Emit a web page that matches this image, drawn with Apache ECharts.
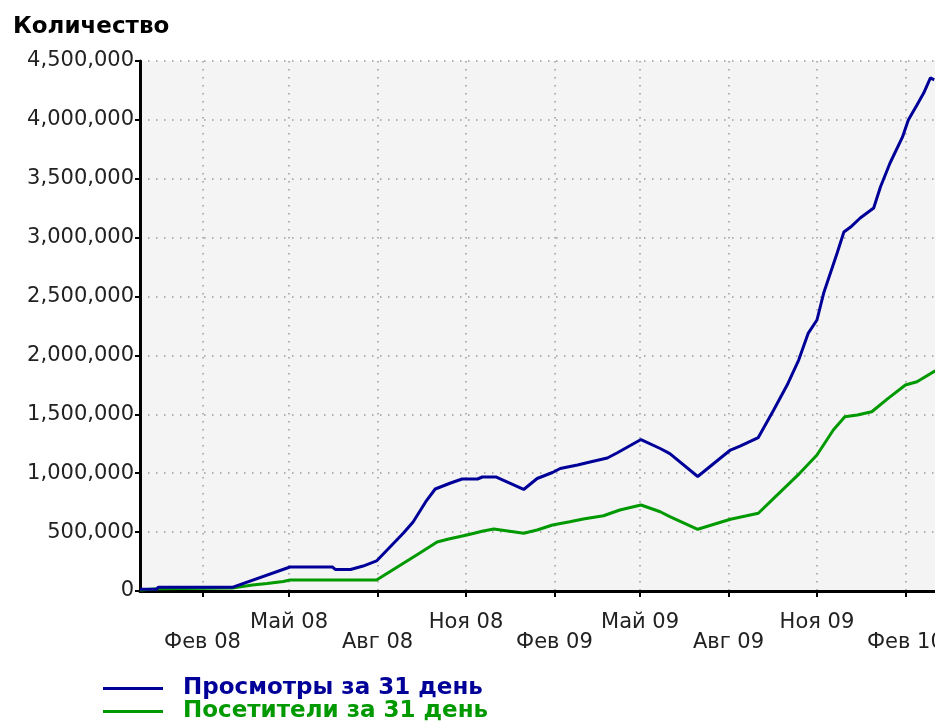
<!DOCTYPE html>
<html>
<head>
<meta charset="utf-8">
<title>Количество</title>
<script src="https://cdn.jsdelivr.net/npm/echarts@6/dist/echarts.min.js"></script>
<style>
    html, body { margin: 0; padding: 0; background: #fff; }
    #chart { width: 935px; height: 723px; }
</style>
</head>
<body>
<div id="chart"></div>
<script>
// Просмотры за 31 день
var viewsDates = ['2007-11-28', '2007-12-15', '2007-12-17', '2008-03-03', '2008-05-02', '2008-06-15', '2008-06-18',
    '2008-07-04', '2008-07-17', '2008-07-31', '2008-08-28', '2008-09-07', '2008-09-20', '2008-09-30', '2008-10-16',
    '2008-10-28', '2008-11-13', '2008-11-18', '2008-12-02', '2008-12-31', '2009-01-14', '2009-01-30', '2009-02-07',
    '2009-02-25', '2009-03-10', '2009-03-28', '2009-04-07', '2009-05-02', '2009-05-22', '2009-06-01', '2009-06-30',
    '2009-08-03', '2009-08-13', '2009-09-01', '2009-09-17', '2009-10-01', '2009-10-13', '2009-10-23', '2009-11-01',
    '2009-11-08', '2009-11-22', '2009-11-29', '2009-12-06', '2009-12-16', '2009-12-30', '2010-01-06', '2010-01-16',
    '2010-01-29', '2010-02-04', '2010-02-13', '2010-02-20', '2010-02-27', '2010-03-03'];
var viewsValues = [14000, 14000, 31000, 31000, 204000, 204000, 183000,
    183000, 212000, 255000, 492000, 586000, 756000, 866000, 917000,
    951000, 951000, 968000, 968000, 862000, 955000, 1006000, 1040000,
    1070000, 1095000, 1129000, 1172000, 1286000, 1210000, 1167000, 972000,
    1197000, 1231000, 1303000, 1537000, 1749000, 1961000, 2190000, 2301000,
    2530000, 2870000, 3048000, 3090000, 3167000, 3252000, 3430000, 3634000,
    3855000, 3999000, 4126000, 4228000, 4356000, 4340000];

// Посетители за 31 день
var visitorsDates = ['2007-11-28', '2007-12-17', '2008-03-03', '2008-03-24', '2008-04-08', '2008-04-25', '2008-05-02',
    '2008-07-31', '2008-08-25', '2008-09-14', '2008-10-02', '2008-10-14', '2008-11-02', '2008-11-19', '2008-11-30',
    '2008-12-07', '2008-12-20', '2008-12-31', '2009-01-14', '2009-01-30', '2009-02-17', '2009-03-03', '2009-03-24',
    '2009-04-10', '2009-05-02', '2009-05-22', '2009-06-01', '2009-06-30', '2009-08-03', '2009-09-01', '2009-09-17',
    '2009-10-14', '2009-11-01', '2009-11-18', '2009-11-30', '2009-12-13', '2009-12-28', '2010-01-14', '2010-02-01',
    '2010-02-13', '2010-03-04'];
var visitorsValues = [8000, 20000, 25000, 51000, 64000, 81000, 93000,
    93000, 221000, 323000, 416000, 441000, 475000, 509000, 526000,
    518000, 503000, 490000, 518000, 560000, 588000, 611000, 639000,
    688000, 730000, 673000, 631000, 524000, 609000, 660000, 787000,
    999000, 1155000, 1367000, 1480000, 1494000, 1522000, 1636000, 1749000,
    1777000, 1870000];

// подписи оси X
var tickDates = ['2008-02-01', '2008-05-01', '2008-08-01', '2008-11-01', '2009-02-01',
    '2009-05-01', '2009-08-01', '2009-11-01', '2010-02-01'];
var tickLabels = ['Фев 08', 'Май 08', 'Авг 08', 'Ноя 08', 'Фев 09',
    'Май 09', 'Авг 09', 'Ноя 09', 'Фев 10'];

var seriesNames = ['Просмотры за 31 день', 'Посетители за 31 день'];

// ось X в днях от 1 февраля 2008
var baseTime = Date.UTC(2008, 1, 1);
function toDay(s) {
    var p = s.split('-');
    return Math.round((Date.UTC(+p[0], +p[1] - 1, +p[2]) - baseTime) / 86400000);
}

function pairs(dates, values) {
    return dates.map(function(d, i) { return [toDay(d), values[i]]; });
}

var tickDays = tickDates.map(toDay);
var dotted = { color: '#9a9a9a', width: 1.5, type: [1.5, 6.5] };

var myChart = echarts.init(document.getElementById('chart'));
var option = {
    animation: false,
    backgroundColor: '#fff',
    textStyle: { fontFamily: 'DejaVu Sans' },
    title: {
        text: 'Количество',
        left: 8,
        top: 11,
        textStyle: { fontSize: 23, fontWeight: 'bold', color: '#000', fontFamily: 'DejaVu Sans' }
    },
    legend: {
        orient: 'vertical',
        left: 103,
        top: 677,
        padding: 0,
        icon: 'rect',
        itemWidth: 60,
        itemHeight: 3,
        itemGap: 0,
        textStyle: { fontSize: 23, fontWeight: 'bold', lineHeight: 22, padding: [0, 0, 0, 15] },
        data: [
            { name: seriesNames[0], textStyle: { color: '#000099' } },
            { name: seriesNames[1], textStyle: { color: '#009900' } }
        ]
    },
    grid: {
        left: 140,
        right: -6,
        top: 61,
        bottom: 132,
        outerBoundsMode: 'none',
        show: true,
        backgroundColor: '#f4f4f4',
        borderWidth: 0
    },
    xAxis: {
        type: 'value',
        min: toDay('2007-11-28'),
        max: toDay('2010-03-10'),
        axisLine: { show: true, onZero: false, lineStyle: { color: '#000', width: 3 } },
        axisTick: { show: true, length: 6, lineStyle: { color: '#000', width: 2 }, customValues: tickDays },
        axisLabel: {
            customValues: tickDays,
            fontSize: 21,
            lineHeight: 20,
            color: '#222',
            margin: 22,
            formatter: function(v) {
                var i = tickDays.indexOf(v);
                if (i < 0) return '';
                // Фев / Авг во втором ряду
                return i % 2 === 0 ? '\n' + tickLabels[i] : tickLabels[i];
            }
        },
        splitLine: { show: true, lineStyle: dotted }
    },
    yAxis: {
        type: 'value',
        min: 0,
        max: 4500000,
        interval: 500000,
        axisLine: { show: true, onZero: false, lineStyle: { color: '#000', width: 3 } },
        axisTick: { show: true, length: 5, lineStyle: { color: '#000', width: 2 } },
        axisLabel: {
            fontSize: 21,
            color: '#222',
            margin: 6,
            formatter: function(v) { return v.toLocaleString('en-US'); }
        },
        splitLine: { show: true, lineStyle: dotted }
    },
    series: [{
        name: seriesNames[0],
        type: 'line',
        z: 3,
        symbol: 'none',
        color: '#000099',
        lineStyle: { width: 3, color: '#000099' },
        data: pairs(viewsDates, viewsValues)
    }, {
        name: seriesNames[1],
        type: 'line',
        z: 2,
        symbol: 'none',
        color: '#009900',
        lineStyle: { width: 3, color: '#009900' },
        data: pairs(visitorsDates, visitorsValues)
    }]
};
myChart.setOption(option);
</script>
</body>
</html>
